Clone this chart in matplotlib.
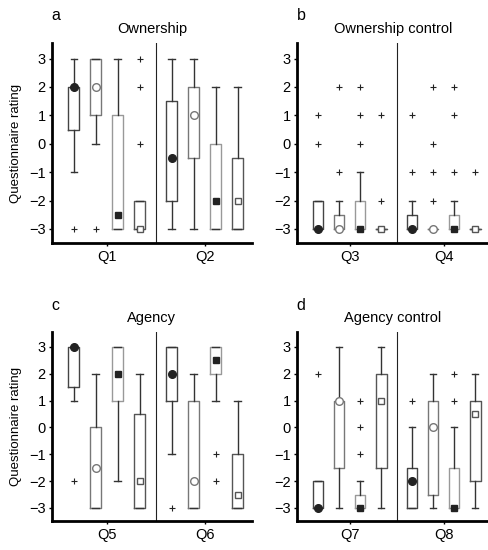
import matplotlib.pyplot as plt

plt.rcParams['font.family'] = ['Liberation Sans', 'DejaVu Sans']

# box statistics: (q1, med, q3, whislo, whishi, fliers)
# four conditions per question, two questions per panel
own_q1 = [(0.5, 2, 2, -1, 3, [-3]), (1, 2, 3, 0, 3, [-3]),
          (-3, -2.5, 1, -3, 3, []), (-3, -3, -2, -3, -2, [0, 2, 3])]
own_q2 = [(-2, -0.5, 1.5, -3, 3, []), (-0.5, 1, 2, -3, 3, []),
          (-3, -2, 0, -3, 2, []), (-3, -2, -0.5, -3, 2, [])]

ownc_q3 = [(-3, -3, -2, -3, -2, [0, 1]), (-3, -3, -2.5, -3, -2, [-1, 2]),
           (-3, -3, -2, -3, -1, [0, 1, 2]), (-3, -3, -3, -3, -3, [-2, 1])]
ownc_q4 = [(-3, -3, -2.5, -3, -2, [-1, 1]), (-3, -3, -3, -3, -3, [-2, -1, 0, 2]),
           (-3, -3, -2.5, -3, -2, [-1, 1, 2]), (-3, -3, -3, -3, -3, [-1])]

ag_q5 = [(1.5, 3, 3, 1, 3, [-2]), (-3, -1.5, 0, -3, 2, []),
         (1, 2, 3, -2, 3, []), (-3, -2, 0.5, -3, 2, [])]
ag_q6 = [(1, 2, 3, -1, 3, [-3]), (-3, -2, 1, -3, 2, []),
         (2, 2.5, 3, 1, 3, [-2, -1]), (-3, -2.5, -1, -3, 1, [])]

agc_q7 = [(-3, -3, -2, -3, -2, [2]), (-1.5, 1, 1, -3, 3, []),
          (-3, -3, -2.5, -3, -2, [-1, 0, 1]), (-1.5, 1, 2, -3, 3, [])]
agc_q8 = [(-3, -2, -1.5, -3, 0, [1]), (-2.5, 0, 1, -3, 2, []),
          (-3, -3, -1.5, -3, 0, [1, 2]), (-2, 0.5, 1, -3, 2, [])]

panels = [
    ('a', 'Ownership', ['Q1', 'Q2'], own_q1, own_q2),
    ('b', 'Ownership control', ['Q3', 'Q4'], ownc_q3, ownc_q4),
    ('c', 'Agency', ['Q5', 'Q6'], ag_q5, ag_q6),
    ('d', 'Agency control', ['Q7', 'Q8'], agc_q7, agc_q8),
]

edge_cols = ['#444444', '#777777', '#999999', '#555555']
markers = [dict(marker='o', ms=5.5, mfc='#222222', mec='#222222'),
           dict(marker='o', ms=5.5, mfc='white', mec='#777777'),
           dict(marker='s', ms=4.5, mfc='#222222', mec='#222222'),
           dict(marker='s', ms=4.5, mfc='white', mec='#555555')]

group_gap = 4.45
pos1 = [1, 2, 3, 4]
pos2 = [p + group_gap for p in pos1]

fig = plt.figure(figsize=(4.89, 5.5), dpi=100)
rects = [[0.106, 0.558, 0.409, 0.364],
         [0.607, 0.558, 0.393, 0.364],
         [0.106, 0.052, 0.409, 0.344],
         [0.607, 0.052, 0.393, 0.344]]

for i, (letter, title, qlabels, g1, g2) in enumerate(panels):
    ax = fig.add_axes(rects[i])
    for pos, group in [(pos1, g1), (pos2, g2)]:
        for k, (q1, med, q3, lo, hi, fl) in enumerate(group):
            st = dict(q1=q1, med=med, q3=q3, whislo=lo, whishi=hi, fliers=fl)
            ax.bxp([st], positions=[pos[k]], widths=0.5, showfliers=True,
                   boxprops=dict(color=edge_cols[k], lw=1),
                   whiskerprops=dict(color='#333333', lw=1),
                   capprops=dict(color='#333333', lw=1),
                   capwidths=0.3,
                   medianprops=dict(visible=False),
                   flierprops=dict(marker='+', ms=4, mec='#222222', mew=0.8))
            ax.plot(pos[k], med, ls='none', zorder=5, **markers[k])
    ax.axvline((pos1[-1] + pos2[0]) / 2, color='#222222', lw=0.8)
    ax.set_xlim(0, 9.1)
    ax.set_ylim(-3.5, 3.55)
    ax.set_yticks([-3, -2, -1, 0, 1, 2, 3])
    ax.set_xticks([(pos1[0] + pos1[-1]) / 2, (pos2[0] + pos2[-1]) / 2])
    ax.set_xticklabels(qlabels, fontsize=10.5)
    ax.tick_params(axis='y', labelsize=10.5, length=2.5, width=1, pad=2)
    ax.tick_params(axis='x', length=2, width=1, pad=3)
    for side in ['top', 'right']:
        ax.spines[side].set_visible(False)
    for side in ['left', 'bottom']:
        ax.spines[side].set_linewidth(2)
    ax.set_title(title, fontsize=10.5, pad=7)
    if i % 2 == 0:
        ax.set_ylabel('Questionnaire rating', fontsize=9.5, labelpad=5)
    ax.text(0.0, 1.10, letter, transform=ax.transAxes, fontsize=11.5,
            ha='left', va='bottom')

fig.savefig('out.png', dpi=100)
